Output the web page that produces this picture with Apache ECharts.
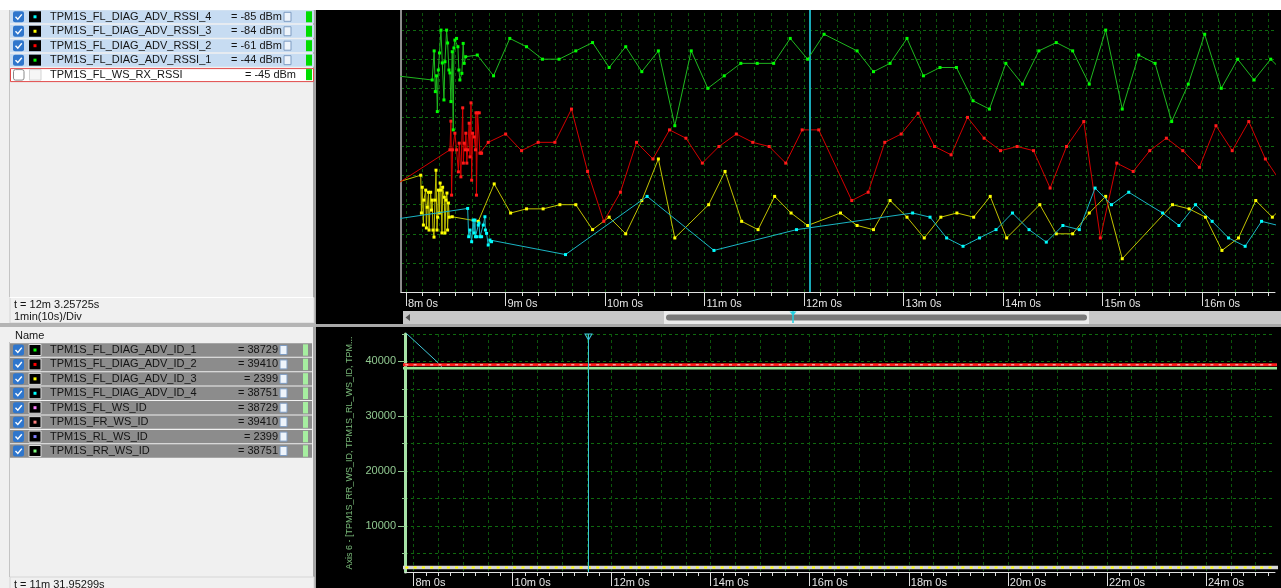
<!DOCTYPE html>
<html>
<head>
<meta charset="utf-8">
<script src="https://cdn.jsdelivr.net/npm/echarts@6/dist/echarts.min.js"></script>
<style>html,body{margin:0;padding:0;background:#000;overflow:hidden}#c{width:1281px;height:588px}</style>
</head>
<body>
<div id="c"></div>
<script>
const FONT = '"Liberation Sans", Arial, sans-serif';

// ---------- top window (RSSI, dBm) ----------
const topNames  = ['TPM1S_FL_DIAG_ADV_RSSI_4','TPM1S_FL_DIAG_ADV_RSSI_3','TPM1S_FL_DIAG_ADV_RSSI_2','TPM1S_FL_DIAG_ADV_RSSI_1','TPM1S_FL_WS_RX_RSSI'];
const topValues = ['= -85 dBm','= -84 dBm','= -61 dBm','= -44 dBm','= -45 dBm'];
const topColors = ['#00ffff','#ffff00','#ff0000','#00ff00',null];
const topCursorText = 't = 12m 3.25725s';
const topDivText = '1min(10s)/Div';
const topCursorSec = 723.25725;
const topMinuteTicks = [480,540,600,660,720,780,840,900,960];

// series values: [time in s, dBm]
const rssi1 = [[470,-47.8],
 [495.8,-49.0],[497.0,-42.0],[497.7,-51.8],[498.4,-48.0],[498.9,-56.6],[499.5,-46.6],[500.2,-42.5],[501.1,-37.0],[501.9,-44.9],[502.9,-53.8],[503.5,-44.6],[504.5,-37.0],[505.1,-40.1],[505.9,-46.6],[506.5,-47.3],[507.1,-54.2],[507.9,-42.2],[508.5,-61.0],[508.9,-41.3],[509.5,-39.4],[510.5,-39.0],[511.3,-41.0],[511.9,-46.6],[512.5,-49.0],[513.7,-47.4],[514.5,-40.2],[515.1,-45.0],[516.0,-43.4],
 [523.0,-43],[532.8,-48],[542.6,-39],[552.7,-41],[562.3,-44],[572.3,-44],[582.4,-42],[592.5,-40],[602.5,-46],[612.5,-41],[622.2,-47],[632.2,-42],[642.1,-60],[652.0,-42],[662.0,-51],[671.9,-48],[681.9,-45],[691.8,-45],[701.7,-45],[711.7,-39],[722.2,-44],[732.1,-38],[752.0,-42],[761.9,-47],[771.9,-45],[782.1,-39],[792.0,-48],[802.0,-46],[811.9,-46],[821.9,-54],[831.8,-56],[841.7,-45],[851.7,-50],[861.6,-42],[872.1,-40],[882.0,-42],[892.0,-50],[901.9,-37],[911.9,-56],[921.8,-43],[931.7,-45],[941.7,-59],[951.7,-50],[961.6,-38],[971.6,-51],[981.5,-44],[991.4,-49],[1001.4,-44],[1011.4,-48]];
const rssi2 = [[470,-75.2],[506.5,-65.8],
 [507.1,-58.9],[507.5,-76.7],[508.1,-65.8],[509.5,-61.8],[510.5,-65.8],[511.6,-71.1],[512.1,-64.2],[513.1,-72.3],[514.2,-55.7],[514.6,-69.0],[515.1,-64.2],[515.8,-65.8],[516.1,-61.8],[516.7,-69.0],[517.2,-65.8],[518.1,-59.4],[518.6,-67.5],[519.2,-54.5],[519.6,-73.1],[520.2,-61.8],[521.1,-62.7],[521.9,-65.8],[522.2,-56.9],[522.5,-76.7],[523.2,-56.9],[524.2,-56.9],[524.6,-66.6],[525.2,-66.6],[525.6,-66.6],
 [529.6,-64],[540.1,-62],[549.7,-66],[559.7,-64],[569.8,-64],[579.8,-56],[589.5,-71],[599.3,-83],[609.3,-76],[619.0,-64],[628.9,-68],[638.9,-61],[648.8,-63],[658.7,-69],[668.7,-65],[679.2,-62],[689.1,-64],[699.0,-65],[709.0,-69],[718.9,-61],[728.9,-61],[748.8,-78],[758.7,-76],[768.7,-64],[778.6,-62],[788.8,-57],[798.7,-65],[808.7,-67],[818.6,-58],[828.6,-63],[838.5,-66],[848.5,-65],[858.4,-66],[868.4,-75],[878.3,-65],[888.7,-59],[898.7,-87],[908.6,-69],[918.5,-71],[928.5,-66],[938.5,-63],[948.4,-66],[958.4,-70],[968.4,-60],[978.2,-66],[988.2,-59],[998.2,-68],[1008.2,-74]];
const rssi3 = [[470,-74.2],[488.9,-71.9],
 [489.3,-81.0],[489.8,-74.8],[490.5,-83.9],[490.8,-77.9],[491.9,-75.5],[492.3,-84.6],[492.8,-79.6],[493.6,-76.0],[493.9,-85.1],[494.9,-76.0],[495.4,-80.3],[495.8,-77.9],[496.3,-85.1],[496.9,-86.8],[497.5,-77.9],[498.1,-70.7],[498.7,-85.1],[499.1,-82.0],[499.6,-75.5],[500.1,-81.0],[500.6,-73.8],[501.1,-75.5],[501.7,-85.8],[502.1,-74.8],[503.1,-77.2],[503.5,-85.8],[504.1,-77.9],[504.7,-76.2],[505.1,-85.1],[505.6,-78.6],[506.1,-82.0],[507.9,-81.9],
 [523.6,-83],[533.2,-74],[543.1,-81],[552.7,-80],[562.7,-80],[572.8,-79],[582.4,-79],[592.5,-85],[602.5,-82],[612.5,-86],[622.2,-78],[632.2,-68],[642.1,-87],[662.5,-79],[672.4,-71],[682.4,-83],[692.3,-85],[702.3,-77],[712.2,-81],[722.2,-84],[742.0,-81],[752.0,-84],[761.9,-85],[771.9,-78],[782.1,-82],[792.5,-87],[802.5,-82],[812.2,-81],[822.3,-82],[832.3,-77],[842.2,-87],[862.2,-79],[872.1,-86],[882.0,-86],[892.0,-81],[901.9,-77],[911.9,-92],[942.2,-79],[952.2,-80],[962.1,-82],[972.0,-90],[982.0,-87],[992.4,-78],[1002.4,-82],[1012.4,-78]];
const rssi4 = [[470,-82.7],[517.2,-79.9],
 [517.8,-86.7],[518.6,-85.1],[519.6,-87.9],[520.5,-82.7],[521.0,-85.8],[521.6,-82.7],[521.9,-86.7],[522.6,-86.7],[523.6,-83.9],[524.0,-83.4],[524.6,-86.7],[525.6,-86.7],[526.6,-83.9],[527.6,-81.9],[527.9,-85.1],[528.6,-85.9],[529.6,-88.7],[530.6,-87.5],[531.6,-87.9],
 [576.2,-91],[625.4,-77],[665.7,-90],[715.5,-85],[785.5,-81],[796.0,-82],[806.0,-87],[815.9,-89],[825.8,-87],[835.8,-85],[845.7,-81],[855.7,-85],[866.1,-88],[876.1,-84],[886.0,-85],[895.5,-75],[905.4,-79],[915.8,-76],[936.2,-81],[946.1,-84],[956.1,-79],[966.1,-83],[976.0,-87],[986.0,-89],[995.9,-83],[1005.9,-84]];

// ---------- bottom window (IDs) ----------
const bottomNames  = ['TPM1S_FL_DIAG_ADV_ID_1','TPM1S_FL_DIAG_ADV_ID_2','TPM1S_FL_DIAG_ADV_ID_3','TPM1S_FL_DIAG_ADV_ID_4','TPM1S_FL_WS_ID','TPM1S_FR_WS_ID','TPM1S_RL_WS_ID','TPM1S_RR_WS_ID'];
const bottomValues = [38729, 39410, 2399, 38751, 38729, 39410, 2399, 38751];
const bottomColors = ['#00ff00','#ff0000','#ffff00','#00ffff','#ff80ff','#ff8080','#8080ff','#80ff80'];
const bottomCursorText = 't = 11m 31.95299s';
const bottomCursorSec = 691.95299;
const bottomTwoMinTicks = [480,600,720,840,960,1080,1200,1320,1440];
const bottomYLabels = [10000,20000,30000,40000];
const bottomYMinor = [5000,10000,15000,20000,25000,30000,35000,40000,45000];
const id4Start = [[465,46000],[509.7,39770],[515.7,38751]];
const bottomSpan = [460, 1540];
const bottomAxisName = 'Axis 6 - [TPM1S_RR_WS_ID, TPM1S_RL_WS_ID, TPM...';

// ---------- tick helpers ----------
function range(a, b, step){ const r=[]; for(let v=a; v<=b; v+=step) r.push(v); return r; }
const ticks10 = range(480, 1000, 10);
const ticks15 = range(480, 1520, 15);
const ticks30 = range(480, 1520, 30);
const fmtTime = v => Math.floor(v/60) + 'm ' + Math.round(v % 60) + 's';

const TOPX = [477, 1004];
const BOTX = [469.7, 1523.6];

// ---------- graphic (panels) ----------
const G = [];
function R(x,y,w,h,fill,opt){ opt=opt||{}; G.push({type:'rect', silent:true, z:opt.z||100, shape:{x,y,width:w,height:h,r:opt.r||0}, style:{fill, stroke:opt.stroke||null, lineWidth:opt.lw||1}}); }
function T(x,y,s,opt){ opt=opt||{}; const a=opt.align||'left'; G.push({type:'text', silent:true, z:110, x, y, style:{text:s, fill:opt.fill||'#141414', font:(opt.size||11)+'px '+FONT, align:a, textAlign:a, verticalAlign:'middle', textVerticalAlign:'middle'}}); }
function L(x1,y1,x2,y2,stroke,w){ G.push({type:'line', silent:true, z:105, shape:{x1,y1,x2,y2}, style:{stroke, lineWidth:w||1}}); }
function PL(points,stroke,w){ G.push({type:'polyline', silent:true, z:108, shape:{points}, style:{stroke, lineWidth:w||1, fill:null}}); }
function PG(points,fill){ G.push({type:'polygon', silent:true, z:108, shape:{points}, style:{fill}}); }

function checkbox(cy, checked){
  if (checked){
    R(13, cy-5.5, 11, 11, '#2f76cc', {r:2, z:106});
    PL([[15.5,cy],[17.8,cy+2.4],[21.8,cy-2.4]], '#ffffff', 1.4);
  } else {
    R(13.5, cy-5, 10.5, 10.5, '#ffffff', {r:2, z:106, stroke:'#8a8a8a'});
  }
}
function swatch(cy, color, border){
  if (!color){ R(29.5, cy-5, 11.5, 10.5, '#f6f6f6', {z:106, stroke:'#d4d4d4'}); return; }
  R(29, cy-5.5, 12, 11, '#000000', {z:106, stroke:border||null});
  L(30.5, cy, 39.5, cy, color, 1);
  R(33.5, cy-1.5, 3, 3, color, {z:107});
}
function docIcon(x, cy){
  R(x, cy-4.5, 7, 9, '#eef4fb', {z:106, stroke:'#7e9cc2'});
  L(x+1.5, cy-1, x+5.5, cy-1, '#9db4d2', 1);
  L(x+1.5, cy+1.5, x+5.5, cy+1.5, '#9db4d2', 1);
}

// backgrounds
R(0, 10, 316, 578, '#f0f0f0', {z:90});
R(313, 10, 3, 578, '#a4a4a4', {z:91});
L(9.5, 10, 9.5, 297, '#c4c4c4', 1);
L(9.5, 342, 9.5, 577, '#c4c4c4', 1);

// top list
topNames.forEach((n, i) => {
  const y0 = 10.3 + i*14.45, h = 13, cy = y0 + 6.5;
  if (i < 4){
    R(10, y0, 304, h, '#c7dcf2', {z:100});
    checkbox(cy, true); swatch(cy, topColors[i]);
    T(50, cy, n); T(282, cy, topValues[i], {align:'right'});
    docIcon(284, cy);
  } else {
    R(10.5, y0+0.5, 303, h, '#ffffff', {z:100, stroke:'#e04848'});
    checkbox(cy, false); swatch(cy, null);
    T(50, cy, n); T(296, cy, topValues[i], {align:'right'});
  }
  R(306, y0+1, 6, h-2, '#00dd00', {z:104});
});
// top status box
R(10, 297.5, 304, 25.5, '#f0f0f0', {z:100, stroke:'#d6d6d6'});
L(10, 297.5, 313, 297.5, '#ffffff', 1);
T(14, 305, topCursorText);
T(14, 317, topDivText);
// splitter
R(0, 323, 316, 4, '#b4b4b4', {z:100});

// bottom list
T(15, 335.5, 'Name');
bottomNames.forEach((n, i) => {
  const y0 = 343.3 + i*14.43, h = 13.4, cy = y0 + 6.7;
  R(10, y0, 302, h, '#8c8c8c', {z:100});
  checkbox(cy, true); swatch(cy, bottomColors[i], '#dcdcdc');
  T(50, cy, n, {fill:'#141414'});
  T(278, cy, '= ' + bottomValues[i], {align:'right', fill:'#141414'});
  docIcon(280, cy);
  R(303, y0+1, 5, h-2, '#a6eea0', {z:104});
});
R(10, 577, 304, 12, '#f0f0f0', {z:100, stroke:'#d6d6d6'});
T(14, 584.5, bottomCursorText);

// right side chrome
R(0, 0, 1281, 10, '#ffffff', {z:120});
R(316, 10, 3, 301, '#000000', {z:95});
R(403, 311, 878, 13, '#c8c8c8', {z:100});
R(664, 311, 425, 13, '#ececec', {z:101});
R(666, 314.5, 421, 6, '#7a7a7a', {z:102, r:3});
PG([[405.5,317.5],[410,314],[410,321]], '#505050');
PG([[789.5,311.5],[796.5,311.5],[793,315.5]], '#22d0e0');
L(793, 311, 793, 323, '#22d0e0', 1.5);
R(316, 324, 965, 3, '#a8a8a8', {z:100});

// ---------- series ----------
function topSeries(data, lineColor, dotColor, extra){
  return Object.assign({
    type:'line', xAxisIndex:0, yAxisIndex:0, data,
    symbol:'rect', symbolSize:3, showSymbol:true, showAllSymbol:true,
    lineStyle:{color:lineColor, width:1}, itemStyle:{color:dotColor},
    emphasis:{disabled:true}, silent:true, clip:true, animation:false
  }, extra||{});
}
function flat(v){ return [[bottomSpan[0], v],[bottomSpan[1], v]]; }
function botSeries(data, color, width, type, z){
  return { type:'line', xAxisIndex:2, yAxisIndex:1, data, symbol:'none', showSymbol:false,
    lineStyle:{color, width, type:type||'solid'}, emphasis:{disabled:true}, silent:true, clip:true, animation:false, z:z||2 };
}

const series = [
  topSeries(rssi3, '#c2c200', '#ffff00', {z:3}),
  topSeries(rssi2, '#d40000', '#ff1a1a', {z:4}),
  topSeries(rssi1, '#1fb81f', '#00ff00', {z:5}),
  topSeries(rssi4, '#1ab4c4', '#00ffff', {z:6,
    markLine:{silent:true, animation:false, symbol:['none','none'], label:{show:false},
      lineStyle:{color:'#19a9b8', width:2, type:'solid'}, data:[{xAxis: topCursorSec}]}}),
  // bottom
  botSeries(flat(bottomValues[6]), '#d6d6d6', 3.5, 'solid', 2),
  botSeries(flat(bottomValues[2]), '#ffff00', 2, [3,5.3], 3),
  botSeries(flat(bottomValues[0]), '#00ff00', 1, 'solid', 2),
  botSeries(flat(bottomValues[4]), '#ff80ff', 1, 'solid', 2),
  botSeries(flat(bottomValues[7]), '#98e898', 2.5, 'solid', 3),
  botSeries(flat(bottomValues[1]), '#ff1a1a', 3, 'solid', 3),
  botSeries(flat(bottomValues[5]), '#ff9a9a', 1.5, [3,5.3], 4),
  Object.assign(botSeries(id4Start.concat([[bottomSpan[1], bottomValues[3]]]), '#40c8d8', 1, 'solid', 1), {
    markLine:{silent:true, animation:false, symbol:['none','none'], label:{show:false},
      lineStyle:{color:'#3cc6d6', width:1, type:'solid'}, data:[{xAxis: bottomCursorSec}]},
    markPoint:{silent:true, animation:false, label:{show:false},
      data:[{coord:[bottomCursorSec, 45000], symbol:'triangle', symbolRotate:180, symbolSize:[7,6], symbolOffset:[0,3],
        itemStyle:{color:'rgba(0,0,0,0)', borderColor:'#3cc6d6', borderWidth:1}}]}
  })
];

const labelColor = '#e6e6e6';
const gridH = '#0f6a0f', gridV = '#0c560c';

const option = {
  backgroundColor:'#000000',
  animation:false,
  textStyle:{fontFamily:FONT},
  grid:[
    {left:401, right:6, top:1, bottom:296, containLabel:false},
    {left:405, right:6, top:334, bottom:16, containLabel:false}
  ],
  xAxis:[
    {type:'value', gridIndex:0, min:TOPX[0], max:TOPX[1], position:'bottom',
      axisLine:{show:true, onZero:false, lineStyle:{color:'#e0e0e0', width:1}},
      axisTick:{show:true, customValues:ticks10, length:4, lineStyle:{color:'#e0e0e0'}},
      axisLabel:{show:false},
      splitLine:{show:true, lineStyle:{color:gridV, type:[3,3], width:1}}},
    {type:'value', gridIndex:0, min:TOPX[0], max:TOPX[1], position:'bottom',
      axisLine:{show:false, onZero:false},
      axisTick:{show:true, customValues:topMinuteTicks, length:14, lineStyle:{color:'#e0e0e0'}},
      axisLabel:{show:true, customValues:topMinuteTicks, formatter:fmtTime, color:labelColor, fontSize:11, fontFamily:FONT, align:'left', margin:6, padding:[0,0,0,2]},
      splitLine:{show:false}},
    {type:'value', gridIndex:1, min:BOTX[0], max:BOTX[1], position:'bottom',
      axisLine:{show:true, onZero:false, lineStyle:{color:'#e0e0e0', width:1}},
      axisTick:{show:true, customValues:ticks15, length:4, lineStyle:{color:'#e0e0e0'}},
      axisLabel:{show:false}, splitLine:{show:false}},
    {type:'value', gridIndex:1, min:BOTX[0], max:BOTX[1], position:'bottom',
      axisLine:{show:false, onZero:false},
      axisTick:{show:false, customValues:ticks30},
      axisLabel:{show:false},
      splitLine:{show:true, lineStyle:{color:gridV, type:[3,3], width:1}}},
    {type:'value', gridIndex:1, min:BOTX[0], max:BOTX[1], position:'bottom',
      axisLine:{show:false, onZero:false},
      axisTick:{show:true, customValues:bottomTwoMinTicks, length:14, lineStyle:{color:'#e0e0e0'}},
      axisLabel:{show:true, customValues:bottomTwoMinTicks, formatter:fmtTime, color:labelColor, fontSize:11, fontFamily:FONT, align:'left', margin:5, padding:[0,0,0,2]},
      splitLine:{show:false}}
  ],
  yAxis:[
    {type:'value', gridIndex:0, min:-100, max:-30, interval:7, position:'left',
      axisLine:{show:true, onZero:false, lineStyle:{color:'#8c8c8c', width:2}},
      axisTick:{show:false}, axisLabel:{show:false},
      splitLine:{show:true, lineStyle:{color:gridH, type:[3,3], width:1}}},
    {type:'value', gridIndex:1, min:1600, max:45000, position:'left',
      axisLine:{show:true, onZero:false, lineStyle:{color:'#a6e2a6', width:3}},
      axisTick:{show:true, customValues:bottomYMinor, length:3, lineStyle:{color:'#90c890'}},
      axisLabel:{show:false},
      splitLine:{show:true, lineStyle:{color:gridH, type:[3,3], width:1}}},
    {type:'value', gridIndex:1, min:1600, max:45000, position:'left',
      axisLine:{show:false, onZero:false},
      axisTick:{show:true, customValues:bottomYLabels, length:7, lineStyle:{color:'#90c890'}},
      axisLabel:{show:true, customValues:bottomYLabels, formatter: v => String(v), color:'#90c890', fontSize:11, fontFamily:FONT, margin:9},
      splitLine:{show:false},
      name:bottomAxisName, nameLocation:'middle', nameRotate:90, nameGap:42,
      nameTextStyle:{color:'#78b878', fontSize:9, fontFamily:FONT}}
  ],
  series,
  graphic:{elements:G}
};

const chart = echarts.init(document.getElementById('c'), null, {renderer:'canvas'});
chart.setOption(option);
</script>
</body>
</html>
